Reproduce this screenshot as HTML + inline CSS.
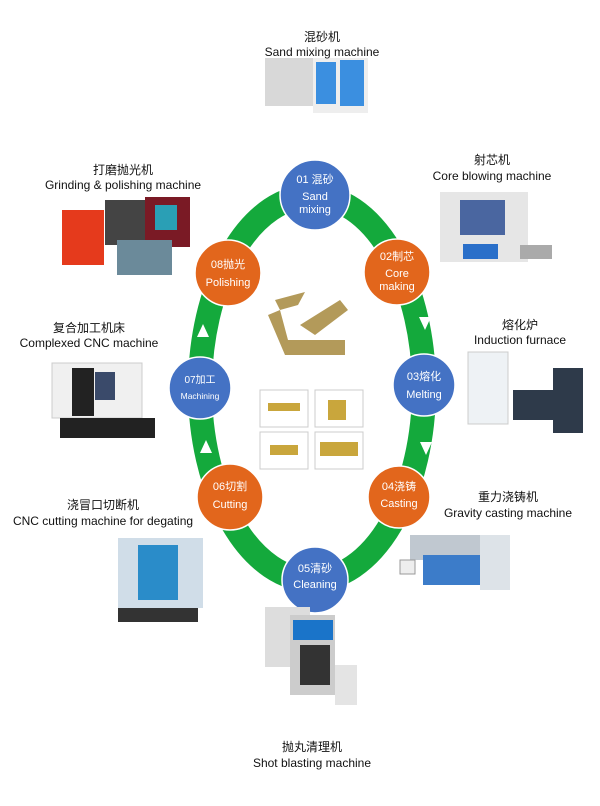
<!DOCTYPE html>
<html><head><meta charset="utf-8"><style>
html,body{margin:0;padding:0;background:#fff;}
svg{display:block;font-family:"Liberation Sans","Noto Sans CJK SC",sans-serif;}
</style></head><body>
<svg width="600" height="806" viewBox="0 0 600 806">
<ellipse cx="312" cy="388" rx="112" ry="192" fill="none" stroke="#14a93c" stroke-width="24"/>
<g fill="#fff">
<polygon points="256,163 268,158 272,172 262,176"/><polygon points="255,165 266,154 276,165"/>
<polygon points="356,163 370,158 365,175 355,170"/>
<polygon points="419,317 431,317 425,330"/>
<polygon points="420,442 432,442 426,455"/>
<polygon points="372,607 382,613 372,622"/>
<polygon points="249,618 256,606 262,618"/>
<polygon points="200,453 206,440 212,453"/>
<polygon points="197,337 203,324 209,337"/>
</g>
<g stroke="#fff" stroke-width="1.5">
<circle cx="315" cy="195" r="35" fill="#4472c4"/>
<circle cx="397" cy="272" r="33" fill="#e2661c"/>
<circle cx="424" cy="385" r="31" fill="#4472c4"/>
<circle cx="399" cy="497" r="31" fill="#e2661c"/>
<circle cx="315" cy="580" r="33" fill="#4472c4"/>
<circle cx="230" cy="497" r="33" fill="#e2661c"/>
<circle cx="200" cy="388" r="31" fill="#4472c4"/>
<circle cx="228" cy="273" r="33" fill="#e2661c"/>
</g>
<g fill="#fff" font-size="11" text-anchor="middle">
<text x="315" y="183">01 混砂</text><text x="315" y="200">Sand</text><text x="315" y="213">mixing</text>
<text x="397" y="260">02制芯</text><text x="397" y="277">Core</text><text x="397" y="290">making</text>
<text x="424" y="380">03熔化</text><text x="424" y="398">Melting</text>
<text x="399" y="490">04浇铸</text><text x="399" y="507">Casting</text>
<text x="315" y="572">05清砂</text><text x="315" y="588">Cleaning</text>
<text x="230" y="490">06切割</text><text x="230" y="508">Cutting</text>
<text x="200" y="383" font-size="10">07加工</text><text x="200" y="399" font-size="8.5">Machining</text>
<text x="228" y="268">08抛光</text><text x="228" y="286">Polishing</text>
</g>
<g fill="#b39a5a">
<polygon points="268,315 280,310 288,340 345,340 345,355 285,355"/>
<polygon points="275,300 305,292 298,305 280,310"/>
<polygon points="300,325 340,300 348,310 315,335"/>
</g>
<g stroke="#ccc" fill="#fff">
<rect x="260" y="390" width="48" height="37"/><rect x="315" y="390" width="48" height="37"/>
<rect x="260" y="432" width="48" height="37"/><rect x="315" y="432" width="48" height="37"/>
</g>
<g fill="#c9a63c"><rect x="268" y="403" width="32" height="8"/><rect x="328" y="400" width="18" height="20"/><rect x="270" y="445" width="28" height="10"/><rect x="320" y="442" width="38" height="14"/></g>
<rect x="265" y="58" width="48" height="48" fill="#d8d8d8"/><rect x="313" y="58" width="55" height="55" fill="#eee"/><rect x="316" y="62" width="20" height="42" fill="#3b8fe0"/><rect x="340" y="60" width="24" height="46" fill="#3b8fe0"/>
<rect x="440" y="192" width="88" height="70" fill="#e6e6e6"/><rect x="460" y="200" width="45" height="35" fill="#4a66a0"/><rect x="463" y="244" width="35" height="15" fill="#2a6fc9"/><rect x="520" y="245" width="32" height="14" fill="#aaa"/>
<rect x="62" y="210" width="42" height="55" fill="#e53a1c"/><rect x="105" y="200" width="40" height="45" fill="#444"/><rect x="145" y="197" width="45" height="50" fill="#7a1a25"/><rect x="155" y="205" width="22" height="25" fill="#2a9fb5"/><rect x="117" y="240" width="55" height="35" fill="#6b8a9a"/>
<rect x="52" y="363" width="90" height="55" fill="#f0f0f0" stroke="#ccc"/><rect x="72" y="368" width="22" height="48" fill="#222"/><rect x="95" y="372" width="20" height="28" fill="#3a4a6a"/><rect x="60" y="418" width="95" height="20" fill="#222"/>
<rect x="468" y="352" width="40" height="72" fill="#eef2f5" stroke="#ccc"/><rect x="513" y="390" width="45" height="30" fill="#2e3a4a"/><rect x="553" y="368" width="30" height="65" fill="#2e3a4a"/>
<rect x="118" y="538" width="85" height="70" fill="#d0dde8"/><rect x="138" y="545" width="40" height="55" fill="#2a8cc9"/><rect x="118" y="608" width="80" height="14" fill="#333"/>
<rect x="410" y="535" width="80" height="25" fill="#c0c8d0"/><rect x="423" y="555" width="85" height="30" fill="#3c7cc9"/><rect x="480" y="535" width="30" height="55" fill="#dde3e8"/><rect x="400" y="560" width="15" height="14" fill="#eee" stroke="#999"/>
<rect x="265" y="607" width="45" height="60" fill="#ddd"/><rect x="290" y="615" width="45" height="80" fill="#ccc"/><rect x="293" y="620" width="40" height="20" fill="#1a74c9"/><rect x="300" y="645" width="30" height="40" fill="#333"/><rect x="335" y="665" width="22" height="40" fill="#e4e4e4"/>
<g fill="#111" font-size="12" text-anchor="middle">
<text x="322" y="41">混砂机</text><text x="322" y="56">Sand mixing machine</text>
<text x="492" y="164">射芯机</text><text x="492" y="180">Core blowing machine</text>
<text x="520" y="329">熔化炉</text><text x="520" y="344">Induction furnace</text>
<text x="508" y="501">重力浇铸机</text><text x="508" y="517">Gravity casting machine</text>
<text x="312" y="751">抛丸清理机</text><text x="312" y="767">Shot blasting machine</text>
<text x="103" y="509">浇冒口切断机</text><text x="103" y="525">CNC cutting machine for degating</text>
<text x="89" y="332">复合加工机床</text><text x="89" y="347">Complexed CNC machine</text>
<text x="123" y="174">打磨抛光机</text><text x="123" y="189">Grinding &amp; polishing machine</text>
</g>
</svg>
</body></html>
